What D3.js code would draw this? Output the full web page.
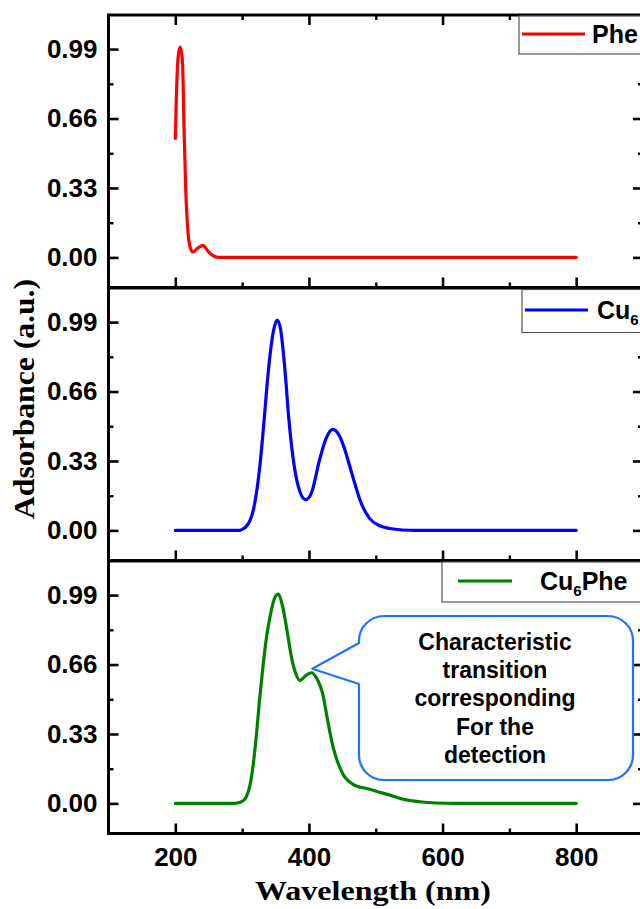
<!DOCTYPE html>
<html>
<head>
<meta charset="utf-8">
<script src="https://cdn.jsdelivr.net/npm/d3@7"></script>
<style>
  html, body { margin: 0; padding: 0; background: #fff; }
  svg { display: block; }
</style>
</head>
<body>
<svg id="chart" width="640" height="909"></svg>
<script>
// UV-Vis absorbance spectra, one stacked panel per sample
const pheWavelength = [200, 201.5, 204, 207, 209, 211, 213, 215.5, 219, 222.5, 226.5, 234, 241.5, 249, 256.5, 264, 800];
const pheAbsorbance = [0.565, 0.755, 0.945, 1.0, 0.98, 0.91, 0.62, 0.33, 0.12, 0.046, 0.026, 0.045, 0.057, 0.029, 0.008, 0, 0];

const cuWavelength = [200, 296, 300, 305, 311.5, 317, 322, 327, 332, 337, 342, 347, 352.5, 357.5, 364, 370, 376, 384, 395, 404, 416, 426, 436, 446, 453, 461, 468, 476, 491, 506, 521, 540, 560, 800];
const cuAbsorbance = [0, 0, 0.005, 0.015, 0.045, 0.1, 0.19, 0.32, 0.49, 0.68, 0.84, 0.95, 1.0, 0.957, 0.766, 0.527, 0.35, 0.21, 0.146, 0.18, 0.337, 0.44, 0.48, 0.447, 0.39, 0.306, 0.23, 0.148, 0.056, 0.022, 0.009, 0.002, 0, 0];

const cuPheWavelength = [200, 288, 294, 299, 304, 308, 312, 316, 321.5, 326, 331.5, 336.5, 341.5, 348, 353.5, 361, 366.5, 374, 380, 386.5, 396, 404, 411, 416, 421, 426, 431, 436, 441, 451, 466, 491, 516, 541, 566, 591, 615, 800];
const cuPheAbsorbance = [0, 0, 0.003, 0.008, 0.02, 0.045, 0.09, 0.17, 0.33, 0.49, 0.66, 0.79, 0.883, 0.97, 0.995, 0.93, 0.835, 0.693, 0.62, 0.585, 0.61, 0.621, 0.598, 0.565, 0.515, 0.43, 0.344, 0.27, 0.215, 0.139, 0.091, 0.067, 0.044, 0.02, 0.008, 0.002, 0, 0];

const xMajorTicks = [200, 400, 600, 800];
const xMinorTicks = [300, 500, 700];
const yMajorTicks = [0.00, 0.33, 0.66, 0.99];
const yMinorTicks = [0.165, 0.495, 0.825];

const calloutLines = ["Characteristic", "transition", "corresponding", "For the", "detection"];

const series = [
  { name: "Phe", sub: null, tail: null, wl: pheWavelength, ab: pheAbsorbance, color: "#ff0000" },
  { name: "Cu", sub: "6", tail: null, wl: cuWavelength, ab: cuAbsorbance, color: "#0000ff" },
  { name: "Cu", sub: "6", tail: "Phe", wl: cuPheWavelength, ab: cuPheAbsorbance, color: "#008000" }
];

// layout
const left = 108.5, right = 643;
const panelTops = [15, 288, 561];
const panelH = 272.5;
const legendBoxes = [
  { x: 519, y: 16, h: 38, lineX1: 522, lineX2: 585, textX: 592 },
  { x: 522, y: 289.5, h: 43, lineX1: 525, lineX2: 588, textX: 597 },
  { x: 442, y: 562, h: 40, lineX1: 458, lineX2: 512, textX: 540 }
];

const sans = "'Liberation Sans', Arial, Helvetica, sans-serif";
const serif = "'Liberation Serif', 'Times New Roman', Times, serif";

const svg = d3.select("#chart");
svg.append("rect").attr("width", 640).attr("height", 909).attr("fill", "#fff");

const x = d3.scaleLinear().domain([100, 900]).range([left, right]);

function styleAxis(g, width) {
  g.select(".domain").remove();
  g.selectAll(".tick line").attr("stroke", "#000").attr("stroke-width", width);
  g.selectAll(".tick text")
    .attr("fill", "#000")
    .style("font-family", sans)
    .style("font-weight", "bold")
    .style("font-size", "26px");
}

const yScales = [];

series.forEach((s, i) => {
  const top = panelTops[i], bottom = top + panelH;
  const y = d3.scaleLinear().domain([-0.143, 1.152]).range([bottom, top]);
  yScales.push(y);
  const g = svg.append("g");

  // left axis
  g.append("g").attr("transform", `translate(${left},0)`)
    .call(d3.axisLeft(y).tickValues(yMajorTicks).tickSize(-10).tickPadding(11).tickFormat(d3.format(".2f")))
    .call(a => styleAxis(a, 2.6));
  g.append("g").attr("transform", `translate(${left},0)`)
    .call(d3.axisLeft(y).tickValues(yMinorTicks).tickSize(-5).tickFormat(""))
    .call(a => styleAxis(a, 2.4));

  // right axis
  g.append("g").attr("transform", `translate(${right},0)`)
    .call(d3.axisRight(y).tickValues(yMajorTicks).tickSize(-10).tickFormat(""))
    .call(a => styleAxis(a, 2.6));
  g.append("g").attr("transform", `translate(${right},0)`)
    .call(d3.axisRight(y).tickValues(yMinorTicks).tickSize(-5).tickFormat(""))
    .call(a => styleAxis(a, 2.4));

  // bottom axis (labels only on the last panel)
  const last = i === series.length - 1;
  g.append("g").attr("transform", `translate(0,${bottom})`)
    .call(d3.axisBottom(x).tickValues(xMajorTicks).tickSize(-10).tickPadding(14).tickFormat(last ? d3.format("d") : ""))
    .call(a => styleAxis(a, 2.6));
  g.append("g").attr("transform", `translate(0,${bottom})`)
    .call(d3.axisBottom(x).tickValues(xMinorTicks).tickSize(-5).tickFormat(""))
    .call(a => styleAxis(a, 2.4));

  if (i === 0) {
    g.append("g").attr("transform", `translate(0,${top})`)
      .call(d3.axisTop(x).tickValues(xMajorTicks).tickSize(-10).tickFormat(""))
      .call(a => styleAxis(a, 2.6));
    g.append("g").attr("transform", `translate(0,${top})`)
      .call(d3.axisTop(x).tickValues(xMinorTicks).tickSize(-5).tickFormat(""))
      .call(a => styleAxis(a, 2.4));
  }

  // spectrum
  const pts = s.wl.map((w, k) => [w, s.ab[k]]);
  g.append("path")
    .datum(pts)
    .attr("fill", "none")
    .attr("stroke", s.color)
    .attr("stroke-width", 3.2)
    .attr("stroke-linejoin", "round")
    .attr("stroke-linecap", "round")
    .attr("d", d3.line().x(d => x(d[0])).y(d => y(d[1])).curve(d3.curveMonotoneX));

  // legend
  const lb = legendBoxes[i];
  const lg = svg.append("g").attr("class", "legend");
  lg.append("rect")
    .attr("x", lb.x).attr("y", lb.y).attr("width", 660 - lb.x).attr("height", lb.h)
    .attr("fill", "#fff").attr("stroke", "#555").attr("stroke-width", 1.2);
  const ly = lb.y + lb.h / 2 - 1;
  lg.append("line")
    .attr("x1", lb.lineX1).attr("x2", lb.lineX2).attr("y1", ly).attr("y2", ly)
    .attr("stroke", s.color).attr("stroke-width", 3.2);
  const t = lg.append("text")
    .attr("x", lb.textX).attr("y", ly + 9)
    .attr("fill", "#000")
    .style("font-family", sans).style("font-weight", "bold").style("font-size", "25px");
  t.append("tspan").text(s.name);
  if (s.sub) {
    t.append("tspan").attr("dy", 6).style("font-size", "15px").text(s.sub);
    if (s.tail) t.append("tspan").attr("dy", -6).text(s.tail);
  }
});

// panel frames
panelTops.forEach(top => {
  svg.append("rect")
    .attr("x", left).attr("y", top).attr("width", right - left).attr("height", panelH)
    .attr("fill", "none").attr("stroke", "#000").attr("stroke-width", 3);
});
// legend boxes sit above the frames
svg.selectAll("g.legend").raise();

// callout pointing at the shoulder of the Cu6Phe spectrum
const y3 = yScales[2];
const box = { L: 359, R: 633, T: 616, B: 780, r: 25, j1: 643, j2: 684 };
const tipX = x(405), tipY = y3(0.64);
const p = d3.path();
p.moveTo(box.L + box.r, box.T);
p.lineTo(box.R - box.r, box.T);
p.arcTo(box.R, box.T, box.R, box.T + box.r, box.r);
p.lineTo(box.R, box.B - box.r);
p.arcTo(box.R, box.B, box.R - box.r, box.B, box.r);
p.lineTo(box.L + box.r, box.B);
p.arcTo(box.L, box.B, box.L, box.B - box.r, box.r);
p.lineTo(box.L, box.j2);
p.lineTo(tipX, tipY);
p.lineTo(box.L, box.j1);
p.arcTo(box.L, box.T, box.L + box.r, box.T, box.r);
p.closePath();
svg.append("path").attr("d", p.toString())
  .attr("fill", "#fff").attr("stroke", "#1e73ff").attr("stroke-width", 2.2).attr("stroke-linejoin", "round");

const ct = svg.append("text")
  .attr("text-anchor", "middle").attr("fill", "#000")
  .style("font-family", sans).style("font-weight", "bold").style("font-size", "23px");
calloutLines.forEach((line, k) => {
  ct.append("tspan").attr("x", 495).attr("y", 650 + k * 28.2).text(line);
});

// axis titles
svg.append("text")
  .attr("x", 373).attr("y", 900)
  .attr("text-anchor", "middle").attr("fill", "#000")
  .attr("textLength", 236).attr("lengthAdjust", "spacingAndGlyphs")
  .style("font-family", serif).style("font-weight", "bold").style("font-size", "28px")
  .text("Wavelength (nm)");

svg.append("text")
  .attr("transform", "translate(34,399) rotate(-90)")
  .attr("text-anchor", "middle").attr("fill", "#000")
  .attr("textLength", 240).attr("lengthAdjust", "spacingAndGlyphs")
  .style("font-family", serif).style("font-weight", "bold").style("font-size", "29px")
  .text("Adsorbance (a.u.)");
</script>
</body>
</html>
